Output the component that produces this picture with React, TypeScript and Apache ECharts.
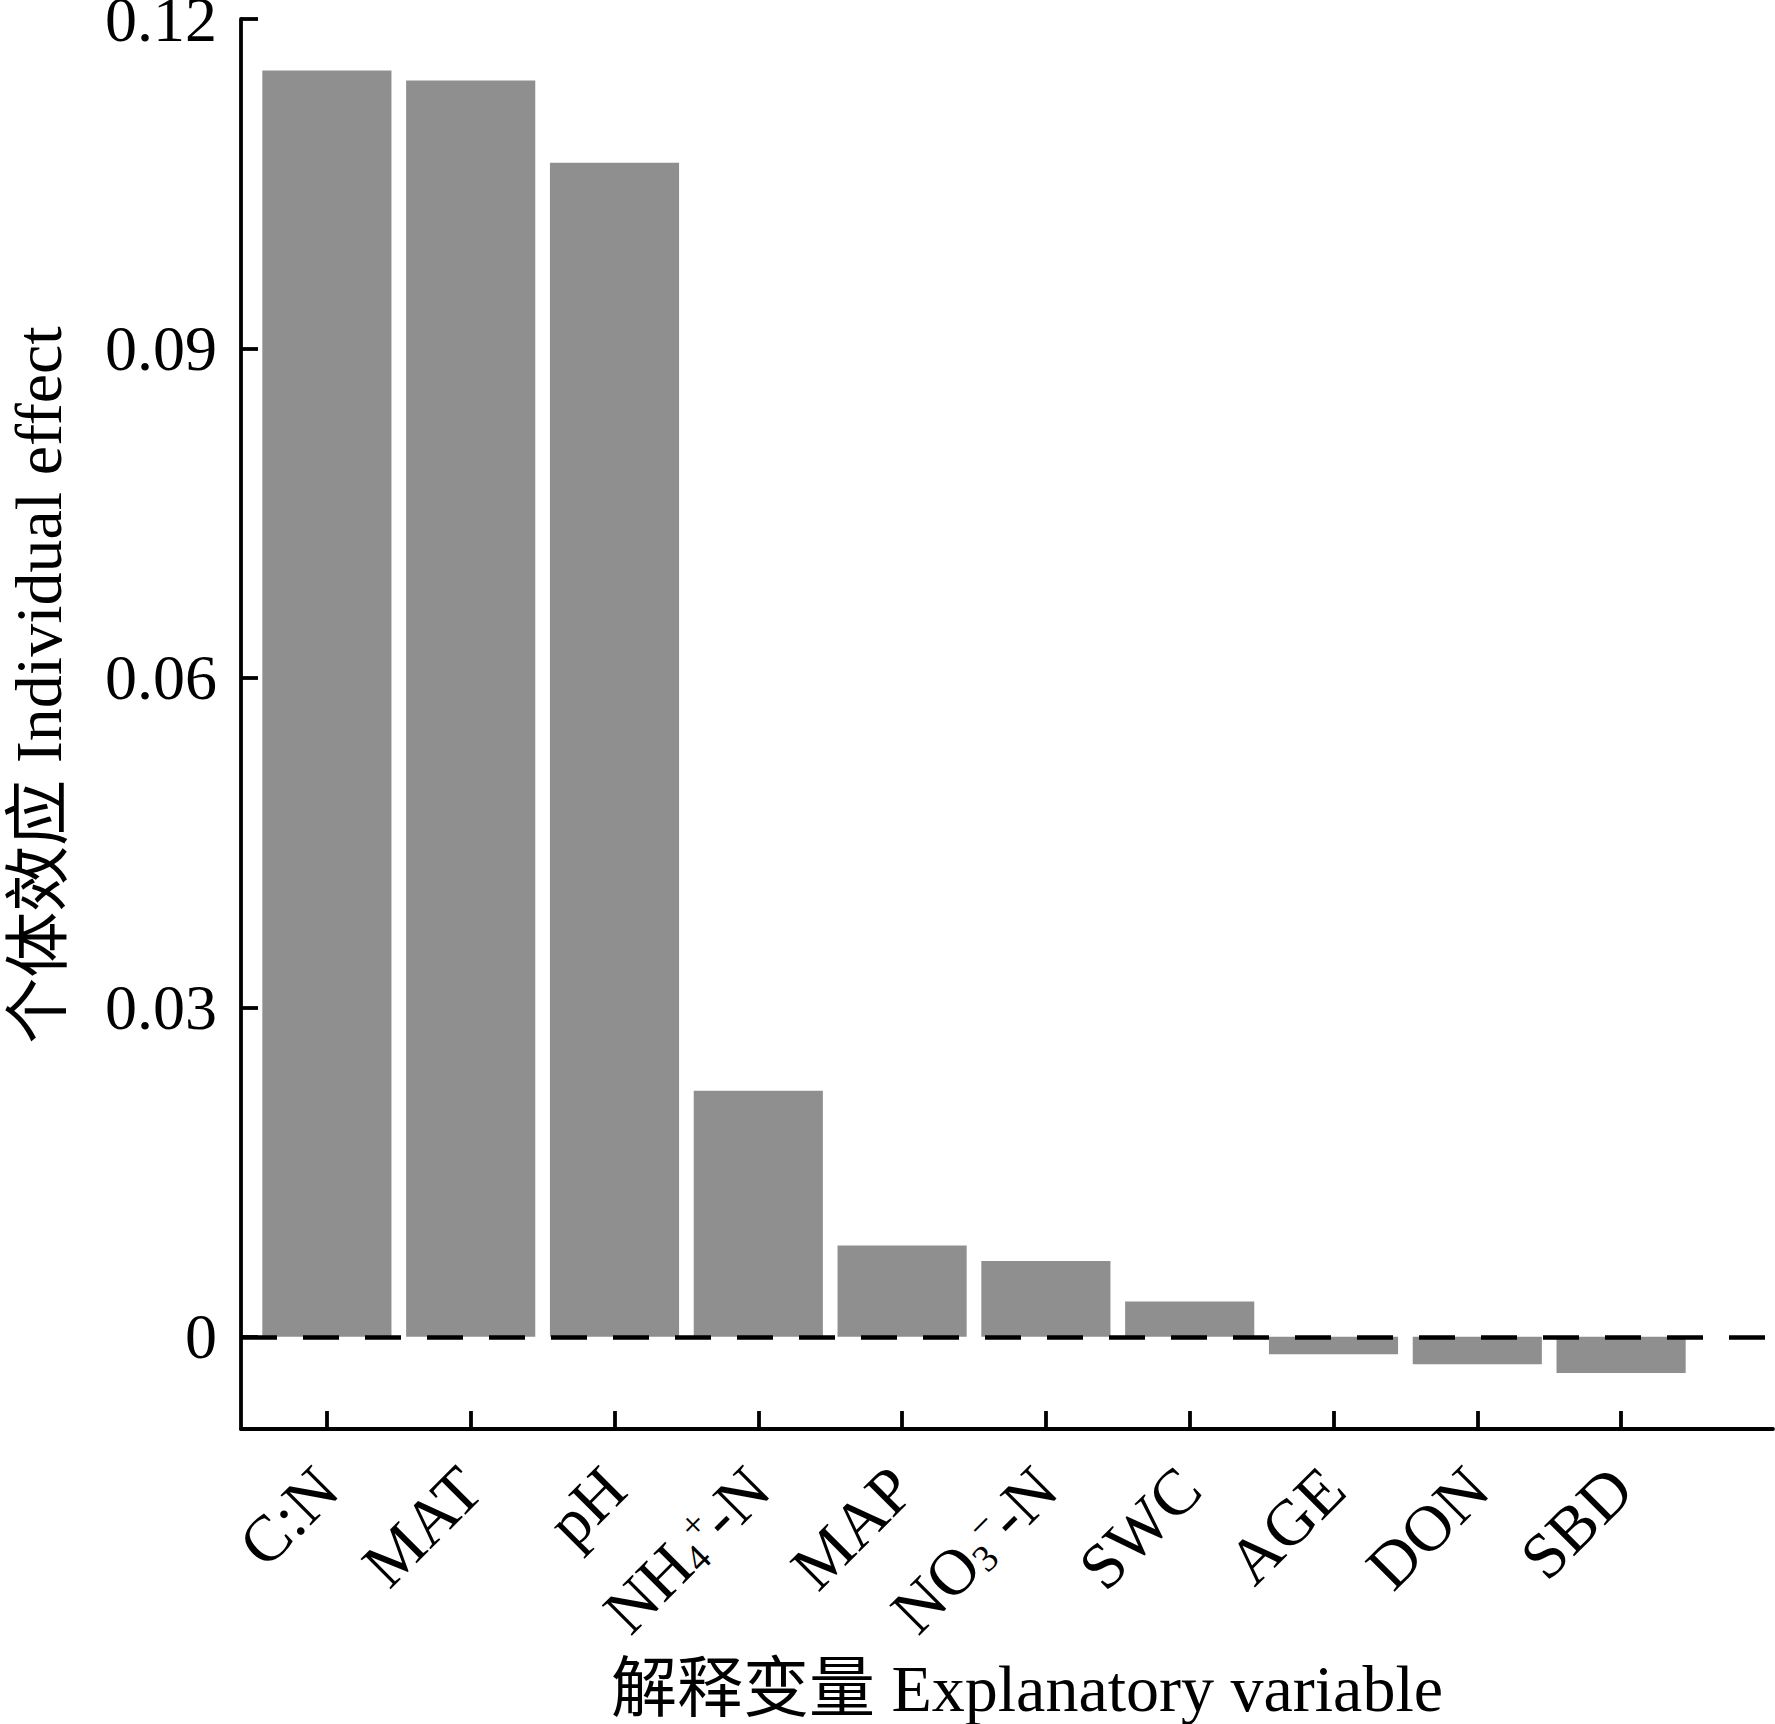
import React, { useEffect, useRef } from "react";
import * as echarts from "echarts";

const categories = ["C:N", "MAT", "pH", "NH4+-N", "MAP", "NO3--N", "SWC", "AGE", "DON", "SBD"];
const values = [0.1153, 0.1144, 0.1069, 0.0224, 0.0083, 0.0069, 0.0032, -0.0016, -0.0025, -0.0033];
const yTicks = [0, 0.03, 0.06, 0.09, 0.12];
const yMin = -0.0084;
const yMax = 0.12;

const labelText: Record<string, string> = {
  "NH4+-N": "NH{sub|4}{sup|+}-N",
  "NO3--N": "NO{sub|3}{sup|−}-N",
};

const FONT = "'Liberation Serif', 'Times New Roman', 'Noto Sans CJK SC', serif";

export default function App() {
  const ref = useRef<HTMLDivElement>(null);
  useEffect(() => {
    if (!ref.current) return;
    const chart = echarts.init(ref.current, undefined, { renderer: "svg" });
    const axisLine = { show: true, lineStyle: { color: "#000", width: 3.8 } };
    chart.setOption({
      animation: false,
      backgroundColor: "#fff",
      textStyle: { fontFamily: FONT },
      grid: [
        { left: 241, top: 19, right: 2, bottom: 295, outerBoundsMode: "none", containLabel: false },
        { left: 255, top: 19, right: 82, bottom: 295, outerBoundsMode: "none", containLabel: false },
      ],
      xAxis: [
        {
          gridIndex: 0,
          type: "value",
          min: 0,
          max: 1,
          axisLine: { ...axisLine, onZero: false },
          axisTick: { show: false },
          axisLabel: { show: false },
          splitLine: { show: false },
          name: "解释变量 Explanatory variable",
          nameLocation: "middle",
          nameGap: 226,
          nameTextStyle: { fontFamily: FONT, fontSize: 66, color: "#000", padding: [0, 0, 0, 40] },
        },
        {
          gridIndex: 1,
          type: "category",
          data: categories,
          axisLine: { show: false, onZero: false },
          axisTick: { show: true, inside: true, length: 18, alignWithLabel: true, lineStyle: { color: "#000", width: 3.8 } },
          axisLabel: {
            interval: 0,
            rotate: 45,
            margin: 49,
            color: "#000",
            fontFamily: FONT,
            fontSize: 65,
            formatter: (v: string) => labelText[v] || v,
            rich: {
              sub: { fontFamily: FONT, fontSize: 38, color: "#000", verticalAlign: "bottom", lineHeight: 30 },
              sup: { fontFamily: FONT, fontSize: 38, color: "#000", verticalAlign: "top", lineHeight: 30 },
            },
          },
          splitLine: { show: false },
        },
      ],
      yAxis: [
        {
          gridIndex: 0,
          type: "value",
          min: yMin,
          max: yMax,
          axisLine: { ...axisLine, onZero: false },
          axisTick: { show: true, inside: true, length: 17, customValues: yTicks, lineStyle: { color: "#000", width: 3.8 } },
          axisLabel: { show: true, customValues: yTicks, margin: 24, color: "#000", fontFamily: FONT, fontSize: 64 },
          splitLine: { show: false },
          name: "个体效应 Individual effect",
          nameLocation: "middle",
          nameGap: 170,
          nameTextStyle: { fontFamily: FONT, fontSize: 66, color: "#000", padding: [0, 0, 0, 78] },
        },
        {
          gridIndex: 1,
          type: "value",
          min: yMin,
          max: yMax,
          show: false,
        },
      ],
      series: [
        {
          type: "line",
          xAxisIndex: 0,
          yAxisIndex: 0,
          data: [[0, 0]],
          showSymbol: false,
          symbolSize: 0,
          lineStyle: { width: 0 },
          silent: true,
          z: 5,
          markLine: {
            silent: true,
            symbol: "none",
            label: { show: false },
            lineStyle: { color: "#000", width: 4.6, type: [36, 26] },
            data: [{ yAxis: 0 }],
          },
        },
        {
          type: "bar",
          xAxisIndex: 1,
          yAxisIndex: 1,
          data: values,
          barCategoryGap: "10.2%",
          itemStyle: { color: "#8f8f8f" },
          silent: true,
          z: 2,
        },
      ],
    });
    return () => chart.dispose();
  }, []);
  return (
    <div
      ref={ref}
      style={{ position: "absolute", left: 0, top: 0, width: 1775, height: 1724, background: "#fff" }}
    />
  );
}
